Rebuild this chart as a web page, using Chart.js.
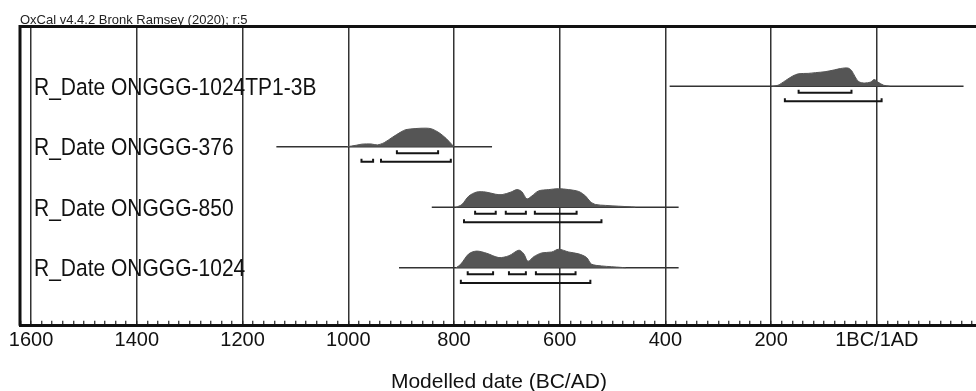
<!DOCTYPE html>
<html>
<head>
<meta charset="utf-8">
<script src="https://cdn.jsdelivr.net/npm/chart.js@4.4.1/dist/chart.umd.min.js"></script>
<style>
  html, body { margin: 0; padding: 0; background: #fff; overflow: hidden; }
  canvas { display: block; }
</style>
</head>
<body>
<canvas id="oxcal" width="980" height="395"></canvas>
<script>
// signed years: BC negative, AD positive
const rowNames = ['R_Date ONGGG-1024TP1-3B', 'R_Date ONGGG-376', 'R_Date ONGGG-850', 'R_Date ONGGG-1024'];
const rowLevels = [4, 3, 2, 1];
const lineStart = [-392, -1136, -842, -904];
const lineEnd = [164, -728, -375, -375];

const yearsTP = [-198, -187, -173, -159, -148, -130, -116, -98, -80, -69, -55, -48, -41, -34, -23, -12, -5, 2, 13, 24];
const probTP = [0, 0.05, 0.3, 0.55, 0.67, 0.69, 0.73, 0.78, 0.88, 0.95, 0.98, 0.85, 0.5, 0.24, 0.17, 0.22, 0.36, 0.22, 0.05, 0];

const years376 = [-1002, -985, -974, -957, -945, -932, -917, -900, -891, -872, -853, -842, -828, -815, -804, -800];
const prob376 = [0, 0.08, 0.14, 0.15, 0.1, 0.22, 0.5, 0.8, 0.92, 0.98, 1.0, 0.96, 0.75, 0.45, 0.12, 0];

const years850 = [-796, -785, -772, -757, -740, -721, -709, -692, -681, -672, -662, -653, -640, -621, -602, -583, -564, -551, -542, -532, -513, -489, -464, -457];
const prob850 = [0, 0.15, 0.6, 0.82, 0.82, 0.7, 0.68, 0.82, 0.95, 0.85, 0.45, 0.6, 0.88, 0.95, 1.0, 0.95, 0.85, 0.6, 0.3, 0.15, 0.1, 0.06, 0.02, 0];

const years1024 = [-796, -787, -772, -757, -738, -715, -696, -677, -668, -660, -649, -634, -615, -602, -583, -564, -549, -540, -521, -502, -483, -475];
const prob1024 = [0, 0.2, 0.75, 0.9, 0.78, 0.55, 0.65, 0.95, 0.75, 0.35, 0.6, 0.8, 0.85, 1.0, 0.85, 0.75, 0.55, 0.2, 0.1, 0.06, 0.02, 0];

const range68TP = [[-148, -48]];
const range95TP = [[-174, 9]];
const range68_376 = [[-908, -830]];
const range95_376 = [[-975, -953], [-938, -806]];
const range68_850 = [[-760, -721], [-702, -664], [-647, -568]];
const range95_850 = [[-781, -521]];
const range68_1024 = [[-774, -726], [-696, -664], [-645, -570]];
const range95_1024 = [[-787, -542]];

const allYears = [yearsTP, years376, years850, years1024];
const allProbs = [probTP, prob376, prob850, prob1024];
const all68 = [range68TP, range68_376, range68_850, range68_1024];
const all95 = [range95TP, range95_376, range95_850, range95_1024];

const tickYears = [];
for (let v = -1620; v <= 180; v += 20) tickYears.push(v);

const FONT = 'Arial, "Liberation Sans", sans-serif';
const PEAK = 0.307;   // height of a distribution in row units
const OFF68 = 0.108;
const OFF95 = 0.249;
const TICK = 0.05;

document.addEventListener('DOMContentLoaded', init);

function bracket(a, b, lvl) {
    return {
        type: 'line',
        data: [{x: a, y: lvl + TICK}, {x: a, y: lvl}, {x: b, y: lvl}, {x: b, y: lvl + TICK}],
        borderColor: '#151515',
        borderWidth: 2,
        pointRadius: 0,
        tension: 0,
        fill: false
    };
}

function buildDatasets() {
    const sets = [];
    rowLevels.forEach((lvl, i) => {
        sets.push({
            type: 'line',
            data: allYears[i].map((yr, k) => ({x: yr, y: lvl + allProbs[i][k] * PEAK})),
            borderColor: '#555',
            backgroundColor: '#555',
            borderWidth: 1,
            pointRadius: 0,
            tension: 0.3,
            fill: {value: lvl}
        });
        sets.push({
            type: 'line',
            data: [{x: lineStart[i], y: lvl}, {x: lineEnd[i], y: lvl}],
            borderColor: '#333',
            borderWidth: 1.5,
            pointRadius: 0,
            fill: false
        });
        all68[i].forEach(r => sets.push(bracket(r[0], r[1], lvl - OFF68)));
        all95[i].forEach(r => sets.push(bracket(r[0], r[1], lvl - OFF95)));
    });
    return sets;
}

const oxcalText = {
    id: 'oxcalText',
    afterDatasetsDraw(chart) {
        const ctx = chart.ctx;
        const yScale = chart.scales.y;
        const left = chart.chartArea.left;
        ctx.fillStyle = '#111';
        ctx.font = '21px ' + FONT;
        ctx.textAlign = 'left';
        ctx.textBaseline = 'alphabetic';
        rowNames.forEach((name, i) => {
            ctx.save();
            ctx.translate(left + 14, yScale.getPixelForValue(rowLevels[i]) + 8.5);
            ctx.scale(1, 1.12);
            ctx.fillText(name, 0, 0);
            ctx.restore();
        });
    },
    afterDraw(chart) {
        const ctx = chart.ctx;
        const area = chart.chartArea;
        ctx.save();
        ctx.strokeStyle = '#111';
        ctx.lineWidth = 3;
        ctx.beginPath();
        ctx.moveTo(area.left, area.bottom);
        ctx.lineTo(area.left, area.top + 0.5);
        ctx.lineTo(area.right, area.top + 0.5);
        ctx.stroke();
        ctx.fillStyle = '#222';
        ctx.font = '13px ' + FONT;
        ctx.textBaseline = 'alphabetic';
        ctx.fillText('OxCal v4.4.2 Bronk Ramsey (2020); r:5', area.left, area.top - 2);
        ctx.restore();
    }
};

function init() {
    const ctx = document.getElementById('oxcal').getContext('2d');
    new Chart(ctx, {
        type: 'line',
        data: {datasets: buildDatasets()},
        options: {
            responsive: false,
            animation: false,
            layout: {padding: {left: 20, top: 26, right: 0, bottom: 0}},
            plugins: {
                legend: {display: false},
                tooltip: {enabled: false}
            },
            scales: {
                x: {
                    type: 'linear',
                    min: -1621,
                    max: 191,
                    z: 1,
                    afterBuildTicks: scale => { scale.ticks = tickYears.map(v => ({value: v})); },
                    ticks: {
                        autoSkip: false,
                        maxRotation: 0,
                        padding: 8,
                        color: '#111',
                        font: {family: FONT, size: 20},
                        callback: v => v % 200 === 0 ? (v === 0 ? '1BC/1AD' : String(Math.abs(v))) : ''
                    },
                    grid: {
                        color: c => (c.tick && c.tick.value % 200 === 0) ? '#333' : 'rgba(0,0,0,0)',
                        lineWidth: 1.5,
                        tickLength: -5,
                        tickColor: '#222',
                        tickWidth: 1.2
                    },
                    border: {display: true, color: '#111', width: 3},
                    title: {
                        display: true,
                        text: 'Modelled date (BC/AD)',
                        color: '#111',
                        font: {family: FONT, size: 21},
                        padding: {top: 9, bottom: 0}
                    }
                },
                y: {
                    type: 'linear',
                    min: 0.042,
                    max: 4.9945,
                    display: false
                }
            }
        },
        plugins: [oxcalText]
    });
}
</script>
</body>
</html>
